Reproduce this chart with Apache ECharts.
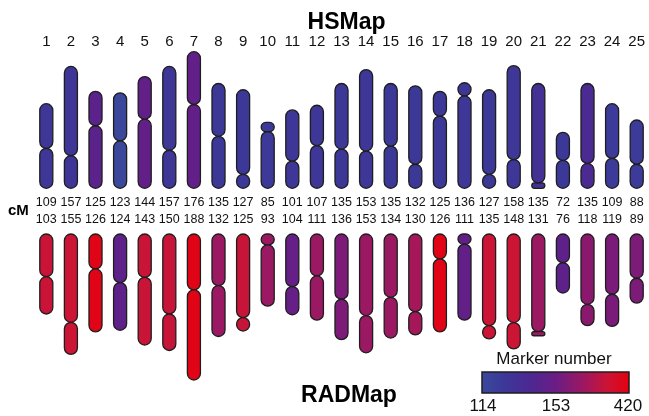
<!DOCTYPE html>
<html>
<head>
<meta charset="utf-8">
<script src="https://cdn.jsdelivr.net/npm/echarts@6/dist/echarts.min.js"></script>
<style>
html,body{margin:0;padding:0;background:#fff;}
#chart{width:649px;height:416px;}
</style>
</head>
<body>
<div id="chart"></div>
<script>
// ---- data ----
const chromosomes = ['1','2','3','4','5','6','7','8','9','10','11','12','13','14','15','16','17','18','19','20','21','22','23','24','25'];
const hsLength = [109,157,125,123,144,157,176,135,127,85,101,107,135,153,135,132,125,136,127,158,135,72,135,109,88];
const radLength = [103,155,126,124,143,150,188,132,125,93,104,111,136,153,134,130,126,111,135,148,131,76,118,119,89];
// centromere position, cM from the map baseline
const hsCentromere = [51.5,42,80.6,61,89,49,108,67,18,73,35,55,50.6,48,54.4,31,93,119,18,37,7,36,32,38.6,31];
const radCentromere = [55,113.7,45,62.6,55.8,103,72,66.5,107.7,14,67.8,54,84,105,81.5,100,32,13,118,114,125.7,37,90.5,77.6,57];
// marker numbers (estimated from colour)
const hsMarkers = [127,128,147,116,150,127,150,126,126,125,127,127,126,127,126,126,126,127,126,127,133,126,138,124,124];
const radMarkers = [335,340,404,148,335,330,404,249,330,249,151,249,190,249,249,270,404,150,340,340,249,148,217,185,190];
const legendTicks = [114,153,420];

// ---- style ----
const colorStops = [
  {offset:0, color:'#3a4a9c'},
  {offset:0.15, color:'#3c3898'},
  {offset:0.35, color:'#4f2690'},
  {offset:0.5, color:'#6a1d85'},
  {offset:0.7, color:'#a0175f'},
  {offset:0.85, color:'#cc1434'},
  {offset:1, color:'#e5000f'}
];
function hexToRgb(h){h=h.replace('#','');return [parseInt(h.substr(0,2),16),parseInt(h.substr(2,2),16),parseInt(h.substr(4,2),16)];}
function markerToT(v){
  const [a,b,c] = legendTicks;
  if (v <= b) return Math.max(0, 0.5*(v-a)/(b-a));
  return Math.min(1, 0.5 + 0.5*(v-b)/(c-b));
}
function markerColor(v){
  const t = markerToT(v);
  for (let i=0;i<colorStops.length-1;i++){
    const s0=colorStops[i], s1=colorStops[i+1];
    if (t>=s0.offset && t<=s1.offset){
      const f=(t-s0.offset)/(s1.offset-s0.offset);
      const c0=hexToRgb(s0.color), c1=hexToRgb(s1.color);
      const r=c0.map((x,k)=>Math.round(x+(c1[k]-x)*f));
      return 'rgb('+r.join(',')+')';
    }
  }
  return colorStops[colorStops.length-1].color;
}

const font = 'Liberation Sans, Arial, sans-serif';
const strokeColor = '#1e1e1e';

function renderChromosome(params, api){
  const idx = api.value(0);
  const len = api.value(1);
  const cen = api.value(2);
  const col = api.value(3);
  const base = api.coord([idx, 0]);
  const pc = api.coord([idx, cen]);
  const pe = api.coord([idx, len]);
  const w = api.size([1,0])[0]*0.53;
  const x = base[0]-w/2;
  const arms = [[base[1], pc[1]], [pc[1], pe[1]]];
  const children = arms.map(a=>{
    const y0 = Math.min(a[0],a[1]), h = Math.abs(a[1]-a[0]);
    const r = Math.min(w/2, h/2);
    return {
      type:'rect',
      shape:{x:x, y:y0, width:w, height:h, r:r},
      style:{fill:markerColor(col), stroke:strokeColor, lineWidth:1.3}
    };
  });
  return {type:'group', children:children};
}

const hsData = chromosomes.map((c,i)=>[i, hsLength[i], hsCentromere[i], hsMarkers[i]]);
const radData = chromosomes.map((c,i)=>[i, radLength[i], radCentromere[i], radMarkers[i]]);

const hiddenAxis = {axisLine:{show:false}, axisTick:{show:false}, splitLine:{show:false}};

const chart = echarts.init(document.getElementById('chart'), null, {renderer:'canvas'});
chart.setOption({
  animation:false,
  backgroundColor:'#fff',
  title:[
    {text:'HSMap', left:341.5, top:6, textAlign:'center',
     textStyle:{fontFamily:font, fontSize:23, fontWeight:'bold', color:'#000'}},
    {text:'RADMap', left:344, top:379, textAlign:'center',
     textStyle:{fontFamily:font, fontSize:23, fontWeight:'bold', color:'#000'}}
  ],
  grid:[
    {left:34, width:615, top:51.7, height:136.6},
    {left:34, width:615, top:234, height:146}
  ],
  xAxis:[
    Object.assign({type:'category', gridIndex:0, position:'bottom', data:hsLength.map(String),
      axisLabel:{interval:0, margin:8, fontFamily:font, fontSize:12.5, color:'#111'}}, hiddenAxis),
    Object.assign({type:'category', gridIndex:0, position:'top', data:chromosomes,
      axisLabel:{interval:0, margin:2, fontFamily:font, fontSize:15, color:'#111'}}, hiddenAxis),
    Object.assign({type:'category', gridIndex:1, position:'top', data:radLength.map(String),
      axisLabel:{interval:0, margin:8, fontFamily:font, fontSize:12.5, color:'#111'}}, hiddenAxis)
  ],
  yAxis:[
    Object.assign({type:'value', gridIndex:0, min:0, max:176, show:false}, hiddenAxis),
    Object.assign({type:'value', gridIndex:1, min:0, max:188, inverse:true, show:false}, hiddenAxis)
  ],
  series:[
    {type:'custom', name:'HSMap', xAxisIndex:0, yAxisIndex:0, data:hsData, renderItem:renderChromosome, clip:false},
    {type:'custom', name:'RADMap', xAxisIndex:2, yAxisIndex:1, data:radData, renderItem:renderChromosome, clip:false}
  ],
  graphic:[
    {type:'text', x:8, y:203, style:{text:'cM', fontFamily:font, fontSize:15, fontWeight:'bold', fill:'#000'}},
    {type:'text', x:554, y:351, style:{text:'Marker number', fontFamily:font, fontSize:17, fill:'#111', align:'center', textAlign:'center'}},
    {type:'rect', shape:{x:482, y:372, width:147, height:21},
     style:{fill:{type:'linear', x:0, y:0, x2:1, y2:0, colorStops:colorStops}, stroke:strokeColor, lineWidth:1.5}},
    {type:'text', x:483, y:398, style:{text:String(legendTicks[0]), fontFamily:font, fontSize:17, fill:'#111', align:'center', textAlign:'center'}},
    {type:'text', x:556, y:398, style:{text:String(legendTicks[1]), fontFamily:font, fontSize:17, fill:'#111', align:'center', textAlign:'center'}},
    {type:'text', x:628, y:398, style:{text:String(legendTicks[2]), fontFamily:font, fontSize:17, fill:'#111', align:'center', textAlign:'center'}}
  ]
});
</script>
</body>
</html>
